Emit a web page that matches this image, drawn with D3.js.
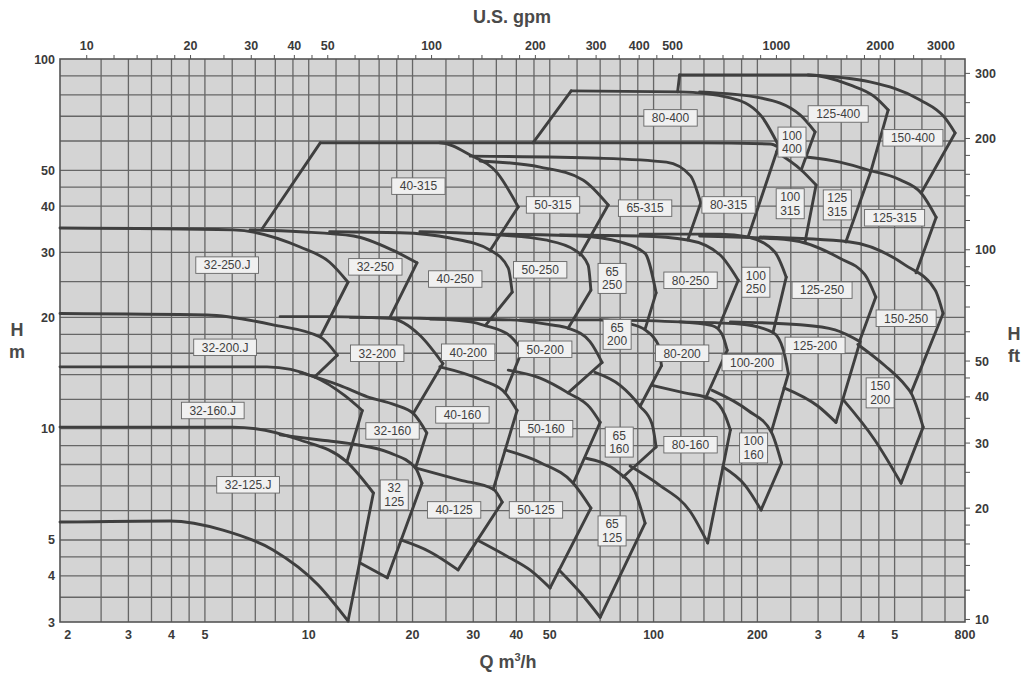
<!DOCTYPE html>
<html><head><meta charset="utf-8">
<script src="https://cdn.jsdelivr.net/npm/d3@7"></script>
<style>
body{margin:0;background:#fff;}
svg{display:block;}
text{font-family:"Liberation Sans",Arial,sans-serif;}
</style>
</head><body>
<svg id="chart" width="1028" height="675"></svg>
<script>
// ---- axis ranges and ticks ----
const qDomain = [1.9, 800];        // flow, m3/h
const hDomain = [3, 100];          // head, m
const GPM = 4.403, FT = 3.281;

const xGrid = [2.5,3,3.5,4,4.5,5,6,7,8,9,10,12,14,16,18,20,25,30,35,40,45,50,60,70,80,90,100,120,140,160,180,200,250,300,350,400,450,500,600,700];
const yGrid = [3.5,4,4.5,5,6,7,8,9,10,12,14,16,18,20,25,30,35,40,45,50,60,70,80,90];
const bottomTicks = [2,3,4,5,10,20,30,40,50,100,200,300,400,500,800];
const bottomTickText = ['2','3','4','5','10','20','30','40','50','100','200','3','4','5','800'];
const leftTicks = [3,4,5,10,20,30,40,50,100];
const gpmMajor = [10,20,30,40,50,100,200,300,400,500,1000,2000,3000];
const gpmMinor = [12,14,16,18,25,35,45,60,70,80,90,120,140,160,180,250,350,450,600,700,800,900,1200,1400,1600,1800,2500];
const ftMajor = [10,20,30,40,50,100,200,300];
const ftMinor = [12,14,16,18,25,35,45,60,70,80,90,120,140,160,180,250];

// ---- pump ranges, points are [Q m3/h, H m] ----
// top: largest-impeller curve ending at its tip; corner: lower end of the right boundary;
// bottom: smallest-impeller curve (only where it is not another range's top curve)
const row400 = [
  {name:'80-400', at:[112,69.3], top:[[57.7,82.0],[119,81.5],[167,78.5],[204,70.6],[230,58.5]], corner:[230,58.5]},
  {name:'100-400', stack:true, at:[252,59.6], top:[[136,81.5],[204,78.5],[266,70.6],[294,63.5]], corner:[268,50.1]},
  {name:'125-400', at:[343,71.0], top:[[119,90.5],[280.6,90.5],[371,85.1],[438,79.0],[479,72.8]], corner:[427,49.8]},
  {name:'150-400', at:[565,61.2], top:[[280.6,90.5],[424,86.7],[593,77.5],[700,69.3],[749,63.1]], corner:[597,43.4]}
];
const row315 = [
  {name:'40-315', at:[20.8,45.3], top:[[10.8,59.3],[24.0,59.3],[29.4,55.0],[35.2,49.2],[40.5,39.8]], corner:[33.6,30.4]},
  {name:'50-315', at:[51.1,40.3], top:[[31.4,53.0],[46.9,51.0],[62.4,47.1],[73.85,40.3]], corner:[61.2,29.5]},
  {name:'65-315', at:[94.5,39.5], top:[[29.4,54.6],[70.0,53.9],[109,52.6],[128,48.3],[137,40.8]], corner:[125.6,32.4]},
  {name:'80-315', at:[165,40.3], top:[[24.0,59.3],[136,59.3],[218,58.9],[230,57.8]], corner:[188,33.0]},
  {name:'100-315', stack:true, at:[249,40.6], top:[[227,56.0],[268,50.1],[296,45.6]], corner:[275,32.0]},
  {name:'125-315', stack:true, at:[341,40.3], top:[[277,54.3],[347,52.6],[427,49.8]], corner:[361,32.0]},
  {name:'125-315', at:[500,37.2], top:[[427,49.8],[519,47.1],[597,43.4],[660,37.3]], corner:[577,26.4]}
];
const row250 = [
  {name:'32-250.J', at:[5.80,27.7], top:[[1.9,34.9],[6.03,34.5],[9.44,31.0],[11.5,28.2],[13.0,24.9]], corner:[10.8,17.7]},
  {name:'32-250', at:[15.6,27.4], top:[[6.76,34.5],[9.44,34.1],[13.5,33.2],[17.5,30.4],[20.6,28.1]], corner:[17.2,20.0]},
  {name:'40-250', at:[26.6,25.4], top:[[11.5,34.1],[18.4,33.9],[25.7,32.8],[33.6,30.4],[37.9,27.2],[38.9,23.4]], corner:[32.5,19.0]},
  {name:'50-250', at:[46.9,26.9], top:[[21.0,34.1],[35.9,33.4],[48.5,32.4],[59.2,30.4],[64.6,27.7],[65.8,23.7]], corner:[56.5,18.7]},
  {name:'65-250', stack:true, at:[75.8,25.5], top:[[35.9,33.6],[61.2,33.2],[80.0,32.0],[94.5,29.8],[101.7,23.3]], corner:[94.5,18.6]},
  {name:'80-250', at:[128,25.2], top:[[53.6,33.4],[91.4,33.2],[125.6,32.4],[156,29.5],[176,25.2]], corner:[154,18.7]},
  {name:'100-250', stack:true, at:[198,24.9], top:[[91.4,33.6],[156,33.6],[188,33.0],[225,30.0],[242.5,25.7]], corner:[222,18.2]},
  {name:'125-250', at:[308,23.7], top:[[136,33.2],[249,32.4],[347,28.9],[410,26.1],[441,22.7]], corner:[397,17.4]},
  {name:'150-250', at:[540,19.9], top:[[204,33.0],[371,32.0],[537,27.7],[656,23.7],[691,20.5]], corner:[558,12.5]}
];
const row200 = [
  {name:'32-200.J', at:[5.72,16.6], top:[[1.9,20.5],[5.07,20.3],[7.88,19.1],[10.8,17.7],[12.1,15.8]], corner:[10.4,13.8]},
  {name:'32-200', at:[15.8,16.0], top:[[8.26,20.1],[11.5,20.1],[17.2,19.9],[21.0,17.9],[24.5,15.0]], corner:[20.1,11.0]},
  {name:'40-200', at:[29.0,16.1], top:[[13.2,20.0],[21.0,19.9],[29.4,19.45],[32.5,19.0],[38.4,17.8],[41.6,16.3]], corner:[37.1,12.5]},
  {name:'50-200', at:[48.5,16.4], top:[[22.5,19.8],[38.4,19.7],[50.1,19.1],[56.5,18.7],[65.4,17.2],[70.9,15.1]], corner:[56.5,12.5]},
  {name:'65-200', stack:true, at:[78.4,18.0], top:[[41.0,19.7],[70.0,19.7],[85.5,19.2],[94.5,18.5],[103,16.9],[105.4,14.8]], corner:[91.4,11.5]},
  {name:'80-200', at:[121,16.0], top:[[70.0,19.7],[119,19.45],[148,19.0],[158,18.0],[163.5,16.3]], corner:[141.6,12.1]},
  {name:'100-200', at:[193,15.1], top:[[119,19.45],[178,19.2],[222,18.2],[238,16.3],[246,14.1]], corner:[219.5,9.80]},
  {name:'125-200', at:[294,16.8], top:[[167,19.45],[266,19.1],[336,18.5],[397,17.2]], corner:[338,10.4],
   bottom:[[239,12.9],[300,11.5],[338,10.4]]},
  {name:'150-200', stack:true, at:[454,12.5], top:[[391,16.9],[469,14.8],[537,13.1],[558,12.5],[605,10.1]], corner:[522,7.12],
   bottom:[[354,12.0],[438,9.32],[522,7.12]]}
];
const row160 = [
  {name:'32-160.J', at:[5.27,11.2], top:[[1.9,14.7],[7.57,14.7],[10.4,13.8],[12.7,12.3],[14.3,11.2]], corner:[12.9,8.13]},
  {name:'32-160', at:[17.5,9.86], top:[[9.44,14.2],[12.3,13.1],[14.8,12.2],[17.8,11.6],[20.1,11.0],[22.0,9.74]], corner:[20.4,7.83]},
  {name:'40-160', at:[27.9,10.9], top:[[24.0,14.7],[32.0,13.5],[37.1,12.5],[40.2,11.2]], corner:[34.3,6.86]},
  {name:'50-160', at:[48.8,10.0], top:[[37.9,14.4],[46.9,13.7],[56.5,12.5],[65.4,11.4],[70.0,10.4]], corner:[58.5,7.12]},
  {name:'65-160', stack:true, at:[79.5,9.2], top:[[67.6,14.2],[80.0,13.1],[91.4,11.5],[99.0,10.3],[101.7,8.92]], corner:[81.6,7.40]},
  {name:'80-160', at:[128,9.05], top:[[99.0,13.1],[123,12.5],[148,12.0],[161,10.9],[167,9.92]], corner:[143.5,4.91],
   bottom:[[85.5,7.93],[104,7.04],[128,5.95],[143.5,4.91]]},
  {name:'100-160', stack:true, at:[195,8.87], top:[[148,12.7],[188,11.2],[219.5,9.80],[235,8.08]], corner:[205,6.03],
   bottom:[[159,7.88],[184,7.04],[205,6.03]]}
];
const row125 = [
  {name:'32-125.J', at:[6.67,7.05], top:[[1.9,10.1],[6.03,10.1],[9.44,9.32],[12.9,8.13],[15.4,6.70]], corner:[13.0,3.02],
   bottom:[[1.9,5.59],[3.96,5.63],[5.64,5.32],[7.88,4.70],[10.65,3.78],[13.0,3.02]]},
  {name:'32-125', stack:true, at:[17.7,6.62], top:[[8.26,9.62],[10.8,9.32],[13.4,9.09],[17.2,8.60],[20.4,7.83],[21.3,7.12]], corner:[16.9,3.95],
   bottom:[[14.1,4.33],[16.9,3.95]]},
  {name:'40-125', at:[26.4,6.03], top:[[20.4,7.83],[27.5,7.26],[34.3,6.86],[36.4,6.33]], corner:[27.1,4.15],
   bottom:[[18.5,5.00],[22.5,4.64],[27.1,4.15]]},
  {name:'50-125', at:[45.6,6.03], top:[[37.1,8.76],[47.2,8.08],[58.5,7.12],[65.8,6.10]], corner:[50.1,3.71],
   bottom:[[30.8,5.00],[37.9,4.50],[43.8,4.15],[50.1,3.71]]},
  {name:'65-125', stack:true, at:[75.8,5.29], top:[[63.3,8.33],[78.9,7.63],[88.4,6.75],[94.5,5.55]], corner:[70.0,3.09],
   bottom:[[53.2,4.15],[61.2,3.61],[70.0,3.09]]}
];
// straight boundaries where a range starts with a step
const leftEdges = [
  [[7.32,34.7],[10.8,59.3]],
  [[44.7,59.3],[57.7,82.0]],
  [[117.4,81.5],[119,90.5]]
];

// ---- drawing ----
const svg = d3.select('#chart');
const L = 60, R = 965, T = 59, B = 622;
const x = d3.scaleLog().domain(qDomain).range([L, R]);
const y = d3.scaleLog().domain(hDomain).range([B, T]);
const xg = d3.scaleLog().domain(qDomain.map(d => d * GPM)).range([L, R]);
const yf = d3.scaleLog().domain(hDomain.map(d => d * FT)).range([B, T]);

const plot = svg.append('g');
plot.append('rect').attr('x', L).attr('y', T).attr('width', R - L).attr('height', B - T)
  .attr('fill', '#d4d4d4');

const grid = plot.append('g').attr('stroke', '#666').attr('stroke-width', 1.3);
grid.selectAll('.vx').data(xGrid).join('line')
  .attr('x1', d => x(d)).attr('x2', d => x(d)).attr('y1', T).attr('y2', B);
grid.selectAll('.hy').data(yGrid).join('line')
  .attr('x1', L).attr('x2', R).attr('y1', d => y(d)).attr('y2', d => y(d));

plot.append('rect').attr('x', L).attr('y', T).attr('width', R - L).attr('height', B - T)
  .attr('fill', 'none').attr('stroke', '#555').attr('stroke-width', 1.6);

// axes
const axisFont = 12.5;
const bottomAxis = svg.append('g').attr('fill', '#3a3a3a').attr('font-size', axisFont).attr('font-weight', 'bold');
bottomAxis.selectAll('text').data(bottomTicks).join('text')
  .attr('x', d => x(d)).attr('y', 639).attr('text-anchor', 'middle')
  .text((d, i) => bottomTickText[i]);

const leftAxis = svg.append('g').attr('fill', '#3a3a3a').attr('font-size', axisFont).attr('font-weight', 'bold');
leftAxis.selectAll('text').data(leftTicks).join('text')
  .attr('x', 55).attr('y', d => y(d) + 4.5).attr('text-anchor', 'end').text(d => d);

const topAxis = svg.append('g');
topAxis.selectAll('line').data(gpmMajor.concat(gpmMinor)).join('line')
  .attr('x1', d => xg(d)).attr('x2', d => xg(d)).attr('y1', T).attr('y2', T - 4)
  .attr('stroke', '#555').attr('stroke-width', 1);
topAxis.selectAll('text').data(gpmMajor).join('text')
  .attr('x', d => xg(d)).attr('y', 50).attr('text-anchor', 'middle')
  .attr('font-size', axisFont).attr('font-weight', 'bold').attr('fill', '#3a3a3a').text(d => d);

const rightAxis = svg.append('g');
rightAxis.selectAll('line').data(ftMajor.concat(ftMinor)).join('line')
  .attr('x1', R).attr('x2', R + 5).attr('y1', d => yf(d)).attr('y2', d => yf(d))
  .attr('stroke', '#555').attr('stroke-width', 1);
rightAxis.selectAll('text').data(ftMajor).join('text')
  .attr('x', 975).attr('y', d => yf(d) + 4.5).attr('text-anchor', 'start')
  .attr('font-size', axisFont).attr('font-weight', 'bold').attr('fill', '#3a3a3a').text(d => d);

// axis titles
const titleStyle = s => s.attr('font-size', 18).attr('font-weight', 'bold').attr('fill', '#4a4a4a');
svg.append('text').attr('x', 512).attr('y', 23).attr('text-anchor', 'middle').text('U.S. gpm').call(titleStyle);
const qt = svg.append('text').attr('x', 508).attr('y', 668).attr('text-anchor', 'middle').call(titleStyle);
qt.append('tspan').text('Q m');
qt.append('tspan').attr('font-size', 11).attr('dy', -7).text('3');
qt.append('tspan').attr('dy', 7).text('/h');
svg.append('text').attr('x', 17).attr('y', 336).attr('text-anchor', 'middle').text('H').call(titleStyle);
svg.append('text').attr('x', 17).attr('y', 358).attr('text-anchor', 'middle').text('m').call(titleStyle);
svg.append('text').attr('x', 1014).attr('y', 340).attr('text-anchor', 'middle').text('H').call(titleStyle);
svg.append('text').attr('x', 1014).attr('y', 362).attr('text-anchor', 'middle').text('ft').call(titleStyle);

// pump ranges
const pumps = [].concat(row125, row160, row200, row250, row315, row400);
const arc = d3.line().x(d => x(d[0])).y(d => y(d[1])).curve(d3.curveMonotoneX);
const seg = d3.line().x(d => x(d[0])).y(d => y(d[1]));
const curves = svg.append('g').attr('fill', 'none').attr('stroke', '#3f3f3f')
  .attr('stroke-width', 2.9).attr('stroke-linejoin', 'round').attr('stroke-linecap', 'round');

pumps.forEach(p => {
  curves.append('path').attr('d', arc(p.top));
  curves.append('path').attr('d', seg([p.top[p.top.length - 1], p.corner]));
  if (p.bottom) curves.append('path').attr('d', arc(p.bottom));
});
leftEdges.forEach(e => curves.append('path').attr('d', seg(e)));

// range labels
const labels = svg.append('g').attr('font-size', 12).attr('fill', '#404040');
pumps.forEach(p => {
  const cx = x(p.at[0]), cy = y(p.at[1]);
  const lines = p.stack ? p.name.split('-') : [p.name];
  const g = labels.append('g');
  const txt = g.selectAll('text').data(lines).join('text')
    .attr('x', cx).attr('text-anchor', 'middle')
    .attr('y', (d, i) => cy + 4.3 + (i - (lines.length - 1) / 2) * 13.5)
    .text(d => d);
  let w = 0;
  txt.each(function () { w = Math.max(w, this.getComputedTextLength()); });
  const h = lines.length * 13.5 + 3;
  const pad = p.stack ? 4 : 8;
  g.insert('rect', 'text').attr('x', cx - w / 2 - pad).attr('y', cy - h / 2)
    .attr('width', w + 2 * pad).attr('height', h)
    .attr('fill', '#f0f0f0').attr('stroke', '#666').attr('stroke-width', 0.9);
});
</script>
</body></html>
